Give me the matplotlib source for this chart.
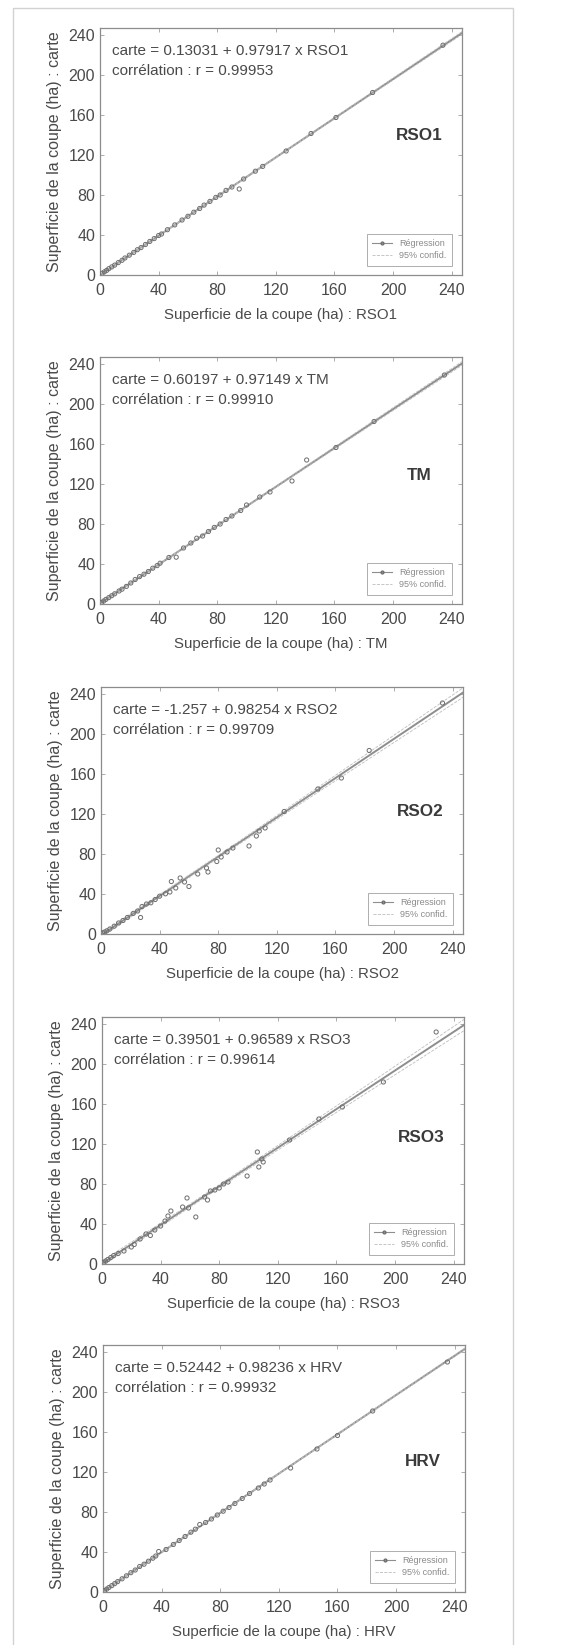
import matplotlib
matplotlib.use('Agg')
import matplotlib.pyplot as plt
from matplotlib.lines import Line2D
from matplotlib.patches import Rectangle
import numpy as np

plt.rcParams['font.family'] = ['Liberation Sans', 'DejaVu Sans']

# sensor names (x axis) and regression results printed on each panel
SENSORS = ['RSO1', 'TM', 'RSO2', 'RSO3', 'HRV']
INTERCEPTS = [0.13031, 0.60197, -1.257, 0.39501, 0.52442]
SLOPES = [0.97917, 0.97149, 0.98254, 0.96589, 0.98236]
EQUATIONS = ['carte = 0.13031 + 0.97917 x RSO1',
             'carte = 0.60197 + 0.97149 x TM',
             'carte = -1.257 + 0.98254 x RSO2',
             'carte = 0.39501 + 0.96589 x RSO3',
             'carte = 0.52442 + 0.98236 x HRV']
CORRELATIONS = ['corrélation : r = 0.99953', 'corrélation : r = 0.99910',
                'corrélation : r = 0.99709', 'corrélation : r = 0.99614',
                'corrélation : r = 0.99932']

# cut areas (ha): x = sensor, y = map ("carte")
x_rso1 = [1.5, 3, 4.5, 6, 8, 10, 12.5, 15, 17, 20, 23, 25.5, 28, 31, 34, 37, 40, 42, 46, 51,
          56, 60, 64, 68, 71, 75, 79, 82, 86, 90, 95, 98, 106, 111, 127, 144, 161, 186, 234]
y_rso1 = [1.8, 3.2, 4.6, 6.3, 8.1, 9.9, 12.4, 14.7, 17.0, 19.8, 22.6, 25.3, 27.4, 30.5, 33.6, 36.4, 39.5, 41.0, 45.3, 50.1,
          55.0, 58.7, 62.8, 66.5, 69.9, 73.6, 77.6, 80.0, 84.6, 88.0, 86.0, 96.0, 103.8, 108.6, 124.0, 141.5, 157.5, 182.5, 229.8]

x_tm = [1, 2.5, 4, 6, 8, 10, 13, 15, 18, 21, 24, 27, 30, 33, 36, 39, 41, 47, 52, 57,
        62, 66, 70, 74, 78, 82, 86, 90, 96, 100, 109, 116, 131, 141, 161, 187, 235]
y_tm = [1.5, 3, 4.6, 6.4, 8.3, 10.2, 13, 14.8, 17.6, 21, 24.5, 27.4, 29.8, 32.5, 35.8, 38.4, 40.8, 46.5, 46.8, 56,
        61, 65.8, 68, 72.5, 76.6, 80, 84.5, 88, 93.5, 99, 107, 112, 123, 144, 156.5, 182.5, 229]

x_rso2 = [1, 2.5, 4, 6, 9, 12, 15, 18, 22, 25, 27, 28, 31, 34, 37, 40, 44, 47, 48, 51,
          54, 57, 60, 66, 72, 73, 79, 80, 82, 86, 90, 101, 106, 108, 112, 125, 148, 164, 183, 233]
y_rso2 = [1.2, 2, 3.2, 5, 7.8, 11, 13.5, 16.5, 20.6, 23, 16.5, 27.5, 30, 31.2, 34.5, 37.8, 40.2, 42, 52.5, 46,
          56, 52, 47.5, 60, 66, 62, 72.5, 84, 77, 82, 86, 88, 98, 103, 106, 122.5, 145, 156, 183.5, 231]

x_rso3 = [1, 2.5, 4, 6, 8, 11, 15, 20, 22, 26, 30, 33, 36, 40, 43, 45, 47, 55, 58, 59,
          64, 70, 72, 74, 77, 80, 83, 86, 99, 106, 107, 109, 110, 128, 148, 164, 192, 228]
y_rso3 = [1.5, 3, 4.5, 6.5, 8.5, 10.5, 13, 17, 19.5, 25, 30, 28.5, 34, 38, 43, 48, 53, 57, 66, 56,
          47, 67, 64, 73, 74, 76, 80, 82, 88, 112, 97, 105, 102, 124, 145, 157, 182, 232]

x_hrv = [1, 2.5, 4, 6, 8, 10, 13, 16, 19, 22, 25, 28, 31, 34, 36, 38, 43, 48, 52, 56,
         60, 63, 66, 70, 74, 78, 82, 86, 90, 95, 100, 106, 110, 114, 128, 146, 160, 184, 235]
y_hrv = [1.4, 2.9, 4.5, 6.4, 8.4, 10.4, 13.2, 16.2, 19.3, 22, 25.5, 27.8, 30.8, 33.8, 36, 40.5, 42.5, 47.5, 51.5, 55.5,
         59.8, 62.8, 67.5, 69.5, 73, 77, 80.8, 84.5, 88.5, 93.5, 98.5, 104, 108, 112, 124, 143, 156.5, 181, 230]

XS = [x_rso1, x_tm, x_rso2, x_rso3, x_hrv]
YS = [y_rso1, y_tm, y_rso2, y_rso3, y_hrv]
NAME_Y = [140, 128, 123, 126, 130]

TEXT = '#4a4a4a'
GREY = '#8e8e8e'

fig = plt.figure(figsize=(5.82, 16.45), dpi=100)
fig.patches.append(Rectangle((13 / 582, -0.1), 500 / 582, 1.1 - 8 / 1645, transform=fig.transFigure,
                             fill=False, edgecolor='#d2d2d2', lw=1.0))

tops = [28, 357, 687, 1017, 1345]
lefts = [100, 100, 101, 102, 103]

for i, name in enumerate(SENSORS):
    ax = fig.add_axes([lefts[i] / 582, 1 - (tops[i] + 247) / 1645, 362 / 582, 247 / 1645])
    x = np.array(XS[i])
    y = np.array(YS[i])

    # regression line and 95% confidence band on the mean
    b, m = INTERCEPTS[i], SLOPES[i]
    ax.axline((0, b), slope=m, color=GREY, lw=1.4, zorder=2)
    xx = np.linspace(0, 247, 100)
    res = y - (b + m * x)
    s = np.sqrt(np.sum(res ** 2) / (len(x) - 2))
    se = s * np.sqrt(1 / len(x) + (xx - x.mean()) ** 2 / np.sum((x - x.mean()) ** 2))
    ax.plot(xx, b + m * xx + 2.02 * se, color='#bdbdbd', lw=0.6, ls='--', zorder=2)
    ax.plot(xx, b + m * xx - 2.02 * se, color='#bdbdbd', lw=0.6, ls='--', zorder=2)

    ax.scatter(x, y, s=9, facecolors='none', edgecolors='#6e6e6e', linewidths=0.7, zorder=3)

    ax.set_xlim(0, 247)
    ax.set_ylim(0, 247)
    ticks = [0, 40, 80, 120, 160, 200, 240]
    ax.set_xticks(ticks)
    ax.set_yticks(ticks)
    ax.tick_params(direction='in', length=3, width=0.6, colors='#a0a0a0', labelcolor=TEXT,
                   labelsize=11.5, top=True, right=True, pad=3.5)
    ax.tick_params(axis='x', pad=5.5)
    for sp in ax.spines.values():
        sp.set_color('#8c8c8c')
        sp.set_linewidth(0.9)

    ax.set_xlabel(f'Superficie de la coupe (ha) : {name}', fontsize=10.8, color=TEXT, va='center')
    ax.xaxis.set_label_coords(0.5, -0.16)
    ax.set_ylabel('Superficie de la coupe (ha) : carte', fontsize=11.5, color=TEXT, va='center')
    ax.yaxis.set_label_coords(-0.125, 0.5)

    ax.text(8, 224, EQUATIONS[i], fontsize=11, color=TEXT, va='center')
    ax.text(8, 204, CORRELATIONS[i], fontsize=11, color=TEXT, va='center')
    ax.text(218, NAME_Y[i], name, fontsize=12.3, fontweight='bold', color='#3a3a3a', ha='center', va='center')

    handles = [Line2D([], [], color=GREY, lw=0.8, marker='o', ms=2, mfc='none', mec='#6e6e6e'),
               Line2D([], [], color='#bdbdbd', lw=0.6, ls='--')]
    leg = ax.legend(handles, ['Régression', '95% confid.'], loc='lower right',
                    bbox_to_anchor=(0.985, 0.02), fontsize=6.5, frameon=True, fancybox=False,
                    edgecolor='#9a9a9a', handlelength=2.2, borderpad=0.6, labelspacing=0.3)
    leg.get_frame().set_linewidth(0.7)
    for t in leg.get_texts():
        t.set_color('#8a8a8a')

fig.savefig('out.png', dpi=100, facecolor='white')
